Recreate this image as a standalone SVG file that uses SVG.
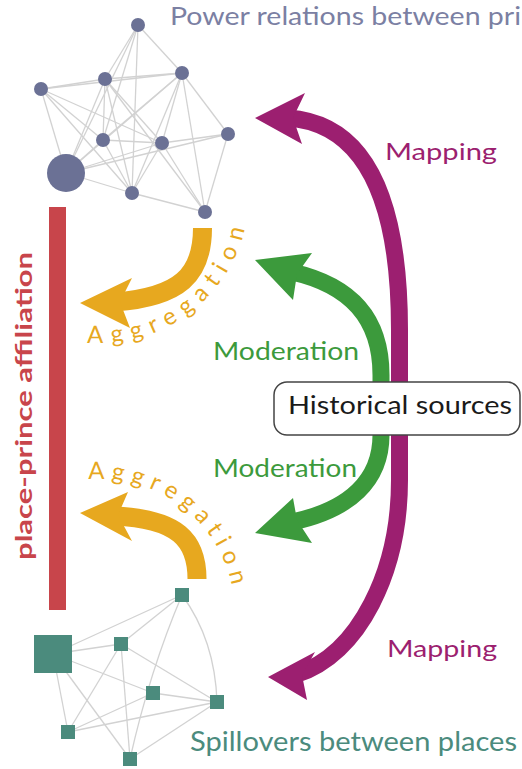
<svg xmlns="http://www.w3.org/2000/svg" width="522" height="769" viewBox="0 0 522 769">
<style>
.e{stroke:#d2d2d2;stroke-width:1.3;fill:none}
.pn{fill:#6b7195}
.sn{fill:#4b8b7d}
.t{font-family:Lato,"Liberation Sans",sans-serif}
.sh{fill:none;stroke-linecap:butt}
</style>
<rect width="522" height="769" fill="#fff"/>
<g id="connectors">
<g id="prince-edges">
<line class="e" x1="138" y1="25" x2="105" y2="79"/>
<line class="e" x1="138" y1="25" x2="182" y2="73"/>
<line class="e" x1="138" y1="25" x2="103" y2="140"/>
<line class="e" x1="138" y1="25" x2="132" y2="193"/>
<line class="e" x1="138" y1="25" x2="66" y2="173"/>
<line class="e" x1="41" y1="89" x2="105" y2="79"/>
<line class="e" x1="41" y1="89" x2="182" y2="73"/>
<line class="e" x1="41" y1="89" x2="103" y2="140"/>
<line class="e" x1="41" y1="89" x2="162" y2="143"/>
<line class="e" x1="41" y1="89" x2="66" y2="173"/>
<line class="e" x1="41" y1="89" x2="132" y2="193"/>
<line class="e" x1="105" y1="79" x2="182" y2="73"/>
<line class="e" x1="105" y1="79" x2="103" y2="140"/>
<line class="e" x1="105" y1="79" x2="66" y2="173"/>
<line class="e" x1="105" y1="79" x2="132" y2="193"/>
<line class="e" x1="105" y1="79" x2="205" y2="212"/>
<line class="e" x1="105" y1="79" x2="162" y2="143"/>
<line class="e" x1="182" y1="73" x2="228" y2="134"/>
<line class="e" x1="182" y1="73" x2="162" y2="143"/>
<line class="e" x1="182" y1="73" x2="103" y2="140"/>
<line class="e" x1="182" y1="73" x2="66" y2="173"/>
<line class="e" x1="182" y1="73" x2="132" y2="193"/>
<line class="e" x1="182" y1="73" x2="205" y2="212"/>
<line class="e" x1="228" y1="134" x2="162" y2="143"/>
<line class="e" x1="228" y1="134" x2="205" y2="212"/>
<line class="e" x1="228" y1="134" x2="66" y2="173"/>
<line class="e" x1="66" y1="173" x2="162" y2="143"/>
<line class="e" x1="66" y1="173" x2="132" y2="193"/>
<line class="e" x1="66" y1="173" x2="103" y2="140"/>
<line class="e" x1="103" y1="140" x2="162" y2="143"/>
<line class="e" x1="103" y1="140" x2="132" y2="193"/>
<line class="e" x1="162" y1="143" x2="205" y2="212"/>
<line class="e" x1="162" y1="143" x2="132" y2="193"/>
<line class="e" x1="132" y1="193" x2="205" y2="212"/>
</g>
<g id="place-edges">
<line class="e" x1="53" y1="654" x2="182" y2="595"/>
<line class="e" x1="53" y1="654" x2="121" y2="644"/>
<line class="e" x1="53" y1="654" x2="153" y2="693"/>
<line class="e" x1="53" y1="654" x2="68" y2="732"/>
<line class="e" x1="53" y1="654" x2="130" y2="759"/>
<line class="e" x1="182" y1="595" x2="121" y2="644"/>
<path class="e" d="M182 595 Q150 670 130 759"/>
<path class="e" d="M182 595 Q215 640 217 702"/>
<line class="e" x1="121" y1="644" x2="217" y2="702"/>
<line class="e" x1="121" y1="644" x2="68" y2="732"/>
<line class="e" x1="121" y1="644" x2="130" y2="759"/>
<line class="e" x1="153" y1="693" x2="217" y2="702"/>
<line class="e" x1="153" y1="693" x2="68" y2="732"/>
<line class="e" x1="217" y1="702" x2="68" y2="732"/>
<line class="e" x1="217" y1="702" x2="130" y2="759"/>
</g>
<g id="aggregation-arrows">
<path class="sh" stroke="#e7a81f" stroke-width="19" d="M202.5 228 C202.5 275 180 297 115 302"/>
<polygon fill="#e7a81f" points="80,303 132,278 120,302 130,328"/>
<path class="sh" stroke="#e7a81f" stroke-width="19" d="M197 579 C197 540 178 519 115 516"/>
<polygon fill="#e7a81f" points="80,513 128,492 118,515 132,541"/>
</g>
<g id="moderation-arrows">
<path class="sh" stroke="#3c9a3c" stroke-width="17" d="M381 400 L381 375 C381 318 350 285 292 272"/>
<polygon fill="#3c9a3c" points="255,260 312,253 297,274 293,300"/>
<path class="sh" stroke="#3c9a3c" stroke-width="17" d="M381 420 L381 435 C381 480 350 510 292 522"/>
<polygon fill="#3c9a3c" points="255,533 293,498 297,520 312,543"/>
</g>
<g id="mapping-arrows">
<path class="sh" stroke="#9c1f70" stroke-width="17" d="M399.5 400 L399.5 330 C399.5 220 375 124 288 118"/>
<polygon fill="#9c1f70" points="255,118 305,93 293,118 302,144"/>
<path class="sh" stroke="#9c1f70" stroke-width="17" d="M399.5 420 L399.5 480 C399.5 570 360 655 295 675"/>
<polygon fill="#9c1f70" points="268,677 315,652 302,675 307,700"/>
</g>
</g>
<g id="prince-network">
<circle class="pn" cx="138" cy="25" r="7"/>
<circle class="pn" cx="105" cy="79" r="7"/>
<circle class="pn" cx="182" cy="73" r="7"/>
<circle class="pn" cx="41" cy="89" r="7"/>
<circle class="pn" cx="103" cy="140" r="7"/>
<circle class="pn" cx="162" cy="143" r="7"/>
<circle class="pn" cx="228" cy="134" r="7"/>
<circle class="pn" cx="66" cy="173" r="19"/>
<circle class="pn" cx="132" cy="193" r="7"/>
<circle class="pn" cx="205" cy="212" r="7"/>
</g>
<g id="place-network">
<rect class="sn" x="34" y="635" width="38" height="38"/>
<rect class="sn" x="175" y="588" width="14" height="14"/>
<rect class="sn" x="114" y="637" width="14" height="14"/>
<rect class="sn" x="146" y="686" width="14" height="14"/>
<rect class="sn" x="210" y="695" width="14" height="14"/>
<rect class="sn" x="61" y="725" width="14" height="14"/>
<rect class="sn" x="123" y="752" width="14" height="14"/>
</g>
<g id="affiliation">
<rect x="49" y="207" width="17" height="403" fill="#c8454b"/>
<text class="t" transform="translate(32,406) rotate(-90)" text-anchor="middle" font-size="22" font-weight="bold" fill="#c8454b" textLength="308" lengthAdjust="spacingAndGlyphs">place-prince affiliation</text>
</g>
<g id="historical-sources">
<rect x="274" y="382" width="246" height="53" rx="13" fill="#fff" stroke="#444" stroke-width="1.5"/>
<text class="t" x="288" y="414" font-size="25" fill="#1a1a1a" textLength="224" lengthAdjust="spacingAndGlyphs">Historical sources</text>
</g>
<g id="labels">
<text class="t" x="170" y="25" font-size="25" fill="#7b80a3" textLength="351" lengthAdjust="spacingAndGlyphs">Power relations between pri</text>
<text class="t" x="190" y="751" font-size="27" fill="#4b8b7d" textLength="327" lengthAdjust="spacingAndGlyphs">Spillovers between places</text>
<text class="t" x="385" y="160" font-size="24" fill="#9c1f70" textLength="112" lengthAdjust="spacingAndGlyphs">Mapping</text>
<text class="t" x="387" y="657" font-size="24" fill="#9c1f70" textLength="110" lengthAdjust="spacingAndGlyphs">Mapping</text>
<text class="t" x="213" y="360" font-size="25" fill="#3c9a3c" textLength="146" lengthAdjust="spacingAndGlyphs">Moderation</text>
<text class="t" x="213" y="477" font-size="25" fill="#3c9a3c" textLength="144" lengthAdjust="spacingAndGlyphs">Moderation</text>
<defs>
<path id="aggTop" d="M87 342.4 A149 149 0 0 0 246.7 168.1"/>
<path id="aggBot" d="M88.2 479.5 A135 135 0 0 1 232.9 637.4"/>
</defs>
<text class="t" font-size="24" fill="#e7a81f" letter-spacing="8.4"><textPath href="#aggTop">Aggregation</textPath></text>
<text class="t" font-size="24" fill="#e7a81f" letter-spacing="6.7"><textPath href="#aggBot">Aggregation</textPath></text>
</g>
</svg>
